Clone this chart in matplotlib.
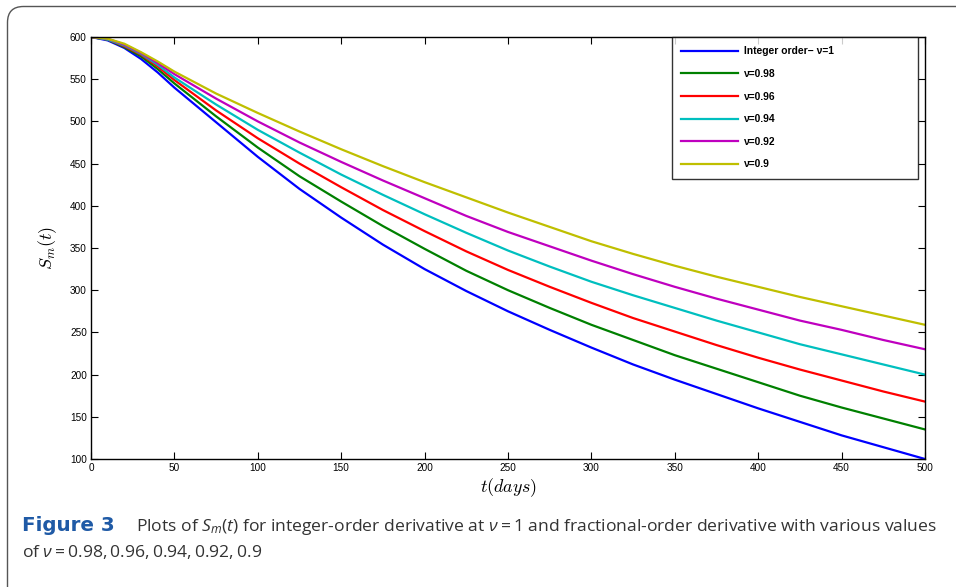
import matplotlib
matplotlib.use('Agg')
import matplotlib.pyplot as plt
from matplotlib.patches import FancyBboxPatch
from matplotlib.transforms import IdentityTransform

# ---------------- data ----------------
t_days = [0, 10, 20, 30, 40, 50, 75, 100, 125, 150, 175, 200, 225, 250,
          275, 300, 325, 350, 375, 400, 425, 450, 475, 500]
s_nu_100 = [600, 596, 587, 574, 558, 540, 499, 458, 420, 386, 354, 325, 299, 275,
            253, 232, 212, 194, 177, 160, 144, 128, 114, 100]
s_nu_098 = [600, 597, 588, 577, 562, 545, 506, 469, 435, 405, 376, 349, 323, 300,
            279, 259, 241, 223, 207, 191, 175, 161, 148, 135]
s_nu_096 = [600, 597, 589, 579, 565, 549, 513, 480, 450, 422, 395, 370, 346, 324,
            304, 285, 267, 251, 235, 220, 206, 193, 180, 168]
s_nu_094 = [600, 597, 590, 580, 567, 552, 520, 490, 463, 437, 413, 390, 368, 347,
            328, 310, 294, 279, 264, 250, 236, 224, 212, 200]
s_nu_092 = [600, 598, 591, 581, 569, 556, 527, 500, 475, 452, 430, 409, 388, 369,
            352, 335, 319, 304, 290, 277, 264, 253, 241, 230]
s_nu_090 = [600, 598, 592, 582, 571, 559, 533, 510, 488, 467, 447, 428, 410, 392,
            375, 358, 343, 329, 316, 304, 292, 281, 270, 259]

series_labels = ["Integer order\u2212 \u03bd=1", "\u03bd=0.98", "\u03bd=0.96",
                 "\u03bd=0.94", "\u03bd=0.92", "\u03bd=0.9"]
series_values = [s_nu_100, s_nu_098, s_nu_096, s_nu_094, s_nu_092, s_nu_090]
series_colors = ["#0000ff", "#008000", "#ff0000", "#00bfbf", "#bf00bf", "#bfbf00"]

x_ticks = list(range(0, 501, 50))
y_ticks = list(range(100, 601, 50))

# ---------------- figure ----------------
W, H = 956, 587
plt.rcParams['mathtext.fontset'] = 'custom'
plt.rcParams['mathtext.rm'] = 'Open Sans'
plt.rcParams['mathtext.it'] = 'Open Sans:italic'
plt.rcParams['mathtext.bf'] = 'Open Sans:bold'

fig = plt.figure(figsize=(W / 100, H / 100), dpi=100)

# rounded frame
frame = FancyBboxPatch((7.5, -60), 980, H - 6.5 + 60,
                       boxstyle="round,pad=0,rounding_size=16",
                       transform=IdentityTransform(), facecolor='none',
                       edgecolor='#555555', linewidth=1.0)
fig.add_artist(frame)

ax = fig.add_axes([91 / W, 1 - 459 / H, (925 - 91) / W, (459 - 37) / H])

for vals, lab, col in zip(series_values, series_labels, series_colors):
    ax.plot(t_days, vals, color=col, lw=1.6, label=lab)

ax.set_xlim(0, 500)
ax.set_ylim(100, 600)
ax.set_xticks(x_ticks)
ax.set_yticks(y_ticks)
tick_font = dict(family='Liberation Sans', size=7.2)
ax.set_xticklabels([str(v) for v in x_ticks], fontdict=tick_font)
ax.set_yticklabels([str(v) for v in y_ticks], fontdict=tick_font)
ax.tick_params(direction='in', length=5, width=0.8, top=True, right=True,
               pad=3, colors='black')
for sp in ax.spines.values():
    sp.set_linewidth(1.0)

ax.set_xlabel(r'$t(days)$', fontsize=13, math_fontfamily='cm', labelpad=2)
ax.set_ylabel(r'$S_m(t)$', fontsize=13, math_fontfamily='cm', labelpad=8)

leg = ax.legend(loc='upper left',
                bbox_to_anchor=((672 - 91) / 834, 1.0, (918 - 672) / 834, 0.0),
                mode='expand', borderaxespad=0, frameon=True, fancybox=False,
                edgecolor='black', handlelength=5.5, handletextpad=0.6,
                labelspacing=1.23, borderpad=0.9,
                prop=dict(family='Liberation Sans', weight='bold', size=7.4))
leg.get_frame().set_linewidth(1.0)

# caption
cap_kw = dict(fontsize=12.6, family='Open Sans', color='#333333', va='baseline')
fig.text(22 / W, 1 - 531 / H, 'Figure 3', fontsize=14.3, family='DejaVu Sans',
         weight='bold', color='#1f5aa6', va='baseline')
fig.text(136 / W, 1 - 531 / H,
         r'Plots of $S_m(t)$ for integer-order derivative at $\nu = 1$ and '
         r'fractional-order derivative with various values', **cap_kw)
fig.text(22 / W, 1 - 557 / H, r'of $\nu = 0.98, 0.96, 0.94, 0.92, 0.9$', **cap_kw)

fig.savefig('out.png', dpi=100)
